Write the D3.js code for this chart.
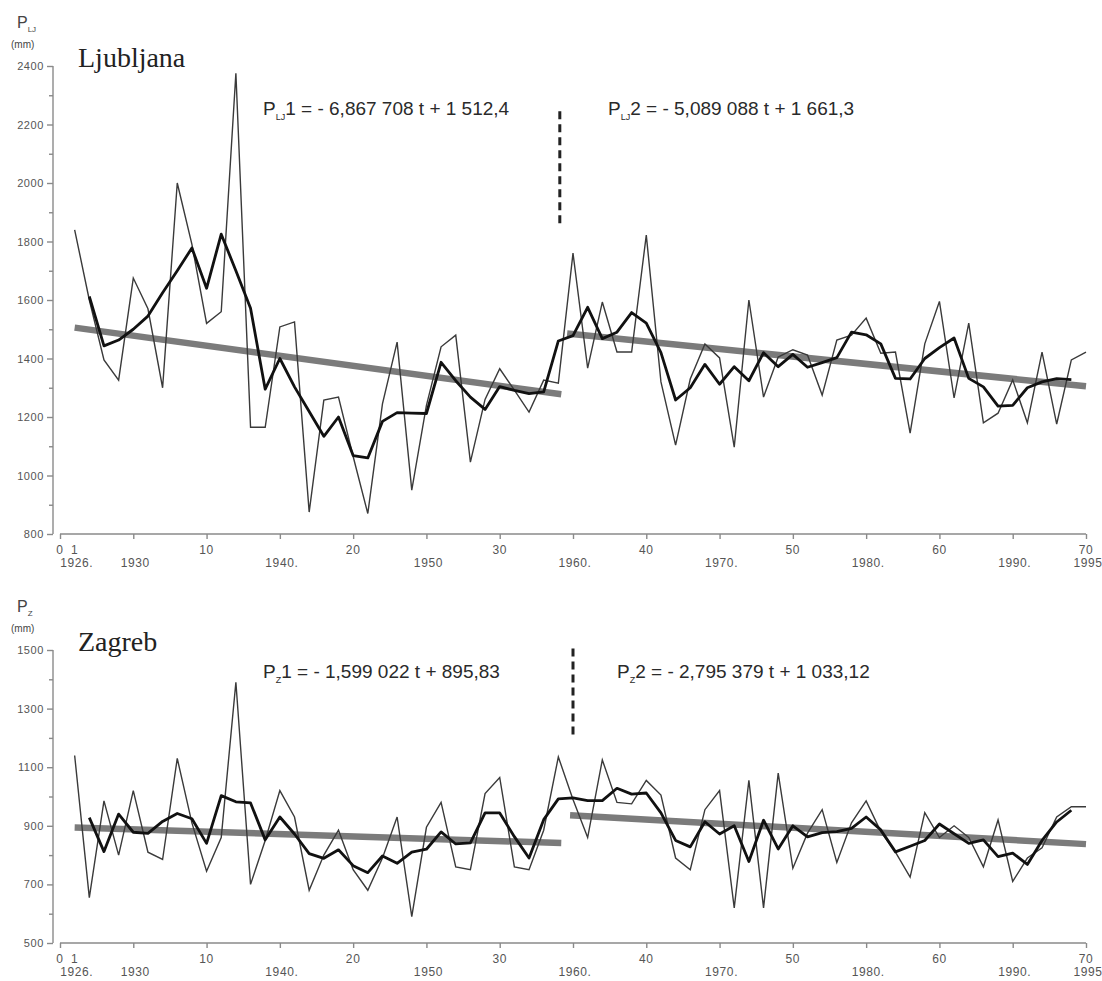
<!DOCTYPE html>
<html>
<head>
<meta charset="utf-8">
<script src="https://cdn.jsdelivr.net/npm/d3@7/dist/d3.min.js"></script>
<style>
body { margin: 0; background: #fff; }
svg { font-family: "Liberation Sans", Arial, sans-serif; }
.axis path, .axis line { stroke: #8a8a8a; stroke-width: 1.4; }
.axis text { fill: #555; font-size: 11px; letter-spacing: 0.6px; }
.tlab { fill: #555; font-size: 12px; letter-spacing: 0.6px; }
.eq { fill: #2a2a2a; font-size: 19px; }
.title { font-family: "Liberation Serif", "Times New Roman", serif; font-size: 28px; fill: #222; }
</style>
</head>
<body>
<div id="chart"></div>
<script>
// t = 1..70  ->  1926..1995
var ljAnnual = [1840, 1600, 1395, 1326, 1675, 1570, 1300, 2000, 1790, 1520,
                1560, 2375, 1165, 1165, 1508, 1525, 875, 1258, 1268, 1065,
                870, 1245, 1456, 950, 1240, 1440, 1480, 1046, 1260, 1365,
                1292, 1217, 1326, 1316, 1760, 1367, 1593, 1422, 1422, 1822,
                1320, 1104, 1330, 1450, 1402, 1097, 1600, 1268, 1405, 1430,
                1412, 1275, 1463, 1480, 1538, 1418, 1422, 1145, 1450, 1595,
                1265, 1521, 1180, 1213, 1327, 1180, 1422, 1176, 1395, 1422];

// smoothed curve, t = 2..69
var ljSmooth = [1612, 1443, 1463, 1500, 1545, 1625, 1700, 1778, 1640, 1825,
                1700, 1572, 1295, 1400, 1303, 1219, 1134, 1200, 1068, 1060,
                1185, 1215, 1213, 1212, 1387, 1324, 1268, 1226, 1304, 1291,
                1280, 1286, 1460, 1478, 1575, 1468, 1490, 1557, 1521, 1420,
                1258, 1300, 1380, 1312, 1372, 1324, 1420, 1372, 1414, 1370,
                1386, 1403, 1490, 1481, 1450, 1332, 1330, 1400, 1437, 1470,
                1332, 1303, 1237, 1240, 1300, 1320, 1331, 1328];

var zgAnnual = [1140, 655, 985, 800, 1020, 810, 785, 1130, 910, 745,
                860, 1390, 700, 850, 1020, 930, 680, 800, 885, 750,
                680, 790, 930, 590, 895, 980, 760, 750, 1010, 1065,
                760, 750, 885, 1135, 990, 860, 1125, 980, 975, 1055,
                1005, 790, 750, 955, 1020, 620, 1055, 620, 1080, 755,
                875, 955, 775, 910, 985, 880, 810, 725, 945, 860,
                900, 860, 760, 920, 710, 790, 825, 930, 965, 965];

var zgSmooth = [928, 812, 940, 878, 874, 915, 942, 924, 840, 1003,
                982, 978, 852, 930, 872, 805, 789, 818, 764, 740,
                797, 772, 810, 820, 879, 838, 842, 944, 944, 863,
                790, 921, 992, 995, 986, 986, 1028, 1008, 1012, 944,
                850, 828, 914, 872, 900, 778, 919, 821, 900, 862,
                877, 880, 891, 930, 886, 811, 830, 850, 906, 873,
                840, 852, 795, 807, 768, 850, 913, 953];

// regression lines: P = slope * t + icpt, over [from, to]
var ljTrends = [{ slope: -6.867708, icpt: 1512.4, from: 1, to: 34.2 },
                { slope: -5.089088, icpt: 1661.3, from: 34.6, to: 70 }];
var zgTrends = [{ slope: -1.599022, icpt: 895.83, from: 1, to: 34.2 },
                { slope: -2.795379, icpt: 1033.12, from: 34.8, to: 70 }];

var ljEq = [["LJ", "1 = - 6,867 708 t + 1 512,4"], ["LJ", "2 = - 5,089 088 t + 1 661,3"]];
var zgEq = [["Z", "1 = - 1,599 022 t + 895,83"], ["Z", "2 = - 2,795 379 t + 1 033,12"]];

var tLabels = [0, 1, 10, 20, 30, 40, 50, 60, 70];
var yearLabels = ["1926.", "1930", "1940.", "1950", "1960.", "1970.", "1980.", "1990.", "1995"];
var yearPos = [1, 5, 15, 25, 35, 45, 55, 65, 70];

var svg = d3.select('#chart').append('svg')
  .attr('width', 1102)
  .attr('height', 981);

var x = d3.scaleLinear().domain([0, 70]).range([60, 1086]);

function panel(opt) {
  var y = d3.scaleLinear().domain(opt.domain).range([opt.bottom, opt.top]);
  var g = svg.append('g');

  // y axis: labelled majors every 200, minors in between
  var majors = d3.range(opt.domain[0], opt.domain[1] + 1, 200);
  var minors = d3.range(opt.domain[0] + 100, opt.domain[1], 200);
  g.append('g').attr('class', 'axis')
    .attr('transform', 'translate(53,0)')
    .call(d3.axisLeft(y).tickValues(majors).tickSize(6).tickPadding(3).tickFormat(d3.format('d')))
    .select('.domain').attr('d', 'M0,' + opt.top + 'V' + opt.bottom);
  g.append('g').attr('class', 'axis')
    .attr('transform', 'translate(53,0)')
    .call(d3.axisLeft(y).tickValues(minors).tickSize(4).tickFormat(''))
    .select('.domain').remove();

  // x axis
  g.append('g').attr('class', 'axis')
    .attr('transform', 'translate(0,' + opt.bottom + ')')
    .call(d3.axisBottom(x).tickValues(d3.range(0, 71, 5)).tickSize(5).tickFormat(''))
    .select('.domain').attr('d', 'M60,0H1086');

  g.selectAll('.tl').data(tLabels).enter().append('text')
    .attr('class', 'tlab')
    .attr('x', function(d) { return x(d); })
    .attr('y', opt.bottom + 20)
    .attr('text-anchor', 'middle')
    .text(function(d) { return d; });
  g.selectAll('.yl').data(yearLabels).enter().append('text')
    .attr('class', 'tlab')
    .attr('x', function(d, i) { return x(yearPos[i]) + 2; })
    .attr('y', opt.bottom + 33)
    .attr('text-anchor', 'middle')
    .text(function(d) { return d; });

  // regression lines
  g.selectAll('.trend').data(opt.trends).enter().append('line')
    .attr('x1', function(d) { return x(d.from); })
    .attr('x2', function(d) { return x(d.to); })
    .attr('y1', function(d) { return y(d.slope * d.from + d.icpt); })
    .attr('y2', function(d) { return y(d.slope * d.to + d.icpt); })
    .attr('stroke', '#7b7b7b')
    .attr('stroke-width', 6.5);

  var line = d3.line()
    .x(function(d) { return x(d[0]); })
    .y(function(d) { return y(d[1]); });

  g.append('path')
    .attr('d', line(opt.annual.map(function(v, i) { return [i + 1, v]; })))
    .attr('fill', 'none')
    .attr('stroke', '#3a3a3a')
    .attr('stroke-width', 1.4)
    .attr('stroke-linejoin', 'miter');

  g.append('path')
    .attr('d', line(opt.smooth.map(function(v, i) { return [i + 2, v]; })))
    .attr('fill', 'none')
    .attr('stroke', '#111')
    .attr('stroke-width', 2.8)
    .attr('stroke-linejoin', 'round');

  // break marker
  g.append('line')
    .attr('x1', x(opt.breakT)).attr('x2', x(opt.breakT))
    .attr('y1', y(opt.breakRange[0])).attr('y2', y(opt.breakRange[1]))
    .attr('stroke', '#222')
    .attr('stroke-width', 3)
    .attr('stroke-dasharray', '8,5');

  // equations
  opt.eqs.forEach(function(e, i) {
    var t = g.append('text').attr('class', 'eq')
      .attr('x', opt.eqX[i]).attr('y', opt.eqY);
    t.append('tspan').text('P');
    t.append('tspan').attr('dy', 5).style('font-size', '9px').text(e[0]);
    t.append('tspan').attr('dy', -5).text(e[1]);
  });

  // title and unit
  g.append('text').attr('class', 'title')
    .attr('x', 78).attr('y', opt.top + 1)
    .text(opt.name);
  var u = g.append('text').attr('x', 17).attr('y', opt.top - 38)
    .style('font-size', '16px').style('fill', '#444');
  u.append('tspan').text('P');
  u.append('tspan').attr('dy', 4).style('font-size', '8px').text(opt.sub);
  g.append('text').attr('x', 11).attr('y', opt.top - 18)
    .style('font-size', '10px').style('fill', '#444')
    .text('(mm)');
}

panel({
  name: 'Ljubljana', sub: 'LJ',
  domain: [800, 2400], top: 66, bottom: 534,
  annual: ljAnnual, smooth: ljSmooth, trends: ljTrends,
  breakT: 34.1, breakRange: [2245, 1850],
  eqs: ljEq, eqX: [263, 608], eqY: 115
});

panel({
  name: 'Zagreb', sub: 'Z',
  domain: [500, 1500], top: 650, bottom: 943,
  annual: zgAnnual, smooth: zgSmooth, trends: zgTrends,
  breakT: 35, breakRange: [1505, 1205],
  eqs: zgEq, eqX: [263, 617], eqY: 678
});
</script>
</body>
</html>
